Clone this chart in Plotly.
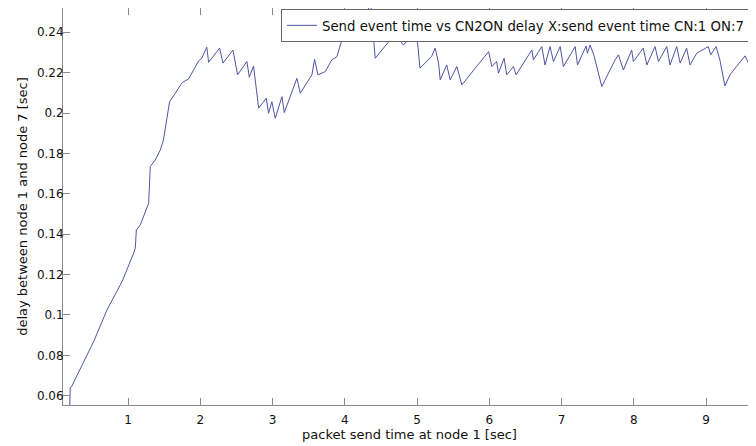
import plotly.graph_objects as go

send_time = [0.19, 0.20, 0.216, 0.524, 0.709, 0.917, 1.078, 1.10, 1.115, 1.17, 1.285, 1.30, 1.308,
             1.378, 1.447, 1.49, 1.575, 1.654, 1.747, 1.838, 1.907, 1.977, 2.02, 2.09, 2.115,
             2.267, 2.314, 2.452, 2.516, 2.645, 2.678, 2.737, 2.807, 2.913, 2.945, 2.99, 3.037,
             3.13, 3.162, 3.337, 3.383, 3.545, 3.581, 3.628, 3.729, 3.82, 3.89, 3.96, 4.03,
             4.2, 4.36, 4.42, 4.628, 4.70, 4.81, 4.905, 4.997, 5.04, 5.2, 5.25, 5.297, 5.32,
             5.41, 5.458, 5.55, 5.62, 5.8, 5.99, 6.035, 6.10, 6.126, 6.204, 6.24, 6.333, 6.37,
             6.588, 6.61, 6.726, 6.77, 6.84, 6.887, 6.98, 7.025, 7.187, 7.22, 7.339, 7.357,
             7.394, 7.449, 7.556, 7.74, 7.786, 7.855, 7.97, 7.993, 8.13, 8.18, 8.293, 8.34,
             8.455, 8.50, 8.593, 8.64, 8.73, 8.777, 8.87, 9.03, 9.064, 9.137, 9.19, 9.26,
             9.33, 9.42, 9.538, 9.63, 9.68]
delay = [0.050, 0.064, 0.0643, 0.0868, 0.1025, 0.1165, 0.1306, 0.133, 0.142, 0.1446, 0.1553,
         0.1652, 0.1735, 0.1768, 0.1817, 0.1867, 0.2056, 0.2098, 0.215, 0.2169, 0.2213, 0.2258,
         0.2271, 0.2326, 0.2251, 0.2321, 0.2247, 0.2312, 0.2189, 0.2255, 0.2177, 0.2233, 0.2024,
         0.2073, 0.1999, 0.2056, 0.1974, 0.2081, 0.2002, 0.2172, 0.2098, 0.2189, 0.2266, 0.2189,
         0.2205, 0.2263, 0.2279, 0.2362, 0.2403, 0.2450, 0.2535, 0.2271, 0.2362, 0.2387, 0.2337,
         0.2370, 0.2387, 0.2222, 0.2279, 0.2321, 0.2247, 0.2164, 0.2238, 0.2164, 0.2230, 0.2139,
         0.2220, 0.2304, 0.2230, 0.2255, 0.2197, 0.2271, 0.2189, 0.2230, 0.2189, 0.2312, 0.2263,
         0.2329, 0.2238, 0.2329, 0.2255, 0.2329, 0.2230, 0.2329, 0.2238, 0.2332, 0.2296, 0.2337,
         0.2283, 0.2131, 0.2263, 0.2288, 0.2213, 0.2312, 0.2255, 0.2321, 0.2238, 0.2329, 0.2255,
         0.2329, 0.2238, 0.2329, 0.2247, 0.2321, 0.2238, 0.2296, 0.2329, 0.2288, 0.2329, 0.2263,
         0.2134, 0.2189, 0.2230, 0.2283, 0.2213, 0.2247]

x_ticks = [1, 2, 3, 4, 5, 6, 7, 8, 9]
y_ticks = [0.06, 0.08, 0.1, 0.12, 0.14, 0.16, 0.18, 0.2, 0.22, 0.24]
y_tick_labels = ["0.06", "0.08", "0.1", "0.12", "0.14", "0.16", "0.18", "0.2", "0.22", "0.24"]

series_name = "Send event time vs CN2ON delay X:send event time CN:1 ON:7"

fig = go.Figure()
fig.add_trace(go.Scatter(x=send_time, y=delay, mode="lines", name=series_name,
                         line=dict(color="#5353a6", width=1)))

tick_font = dict(family="DejaVu Sans", size=12, color="#111111")
title_font = dict(family="DejaVu Sans", size=13, color="#111111")
axis_common = dict(showline=True, linecolor="#8a8a8a", linewidth=1, mirror="ticks",
                   ticks="inside", tickcolor="#8a8a8a", ticklen=7, showgrid=False,
                   zeroline=False, tickfont=tick_font)

# page body has an 8px margin, so the figure is 8px smaller and margins are shifted
fig.update_layout(
    width=748, height=438,
    margin=dict(l=55, r=0, t=0, b=41),
    paper_bgcolor="white", plot_bgcolor="white",
    font=tick_font,
    showlegend=True,
    legend=dict(x=0.9913, y=0.997, xanchor="right", yanchor="top",
                bgcolor="white", bordercolor="#666666", borderwidth=1,
                font=dict(family="DejaVu Sans", size=13.3, color="#111111"),
                itemwidth=30, tracegroupgap=0),
    xaxis=dict(range=[0.1, 9.69], tickvals=x_ticks, ticklabelstandoff=4,
               title=dict(text="packet send time at node 1 [sec]", standoff=3, font=title_font),
               **axis_common),
    yaxis=dict(range=[0.0554, 0.252], tickvals=y_ticks, ticktext=y_tick_labels,
               ticklabelstandoff=-4,
               title=dict(text="delay between node 1 and node 7 [sec]", standoff=6, font=title_font),
               **axis_common),
)

fig.write_html("out.html")
